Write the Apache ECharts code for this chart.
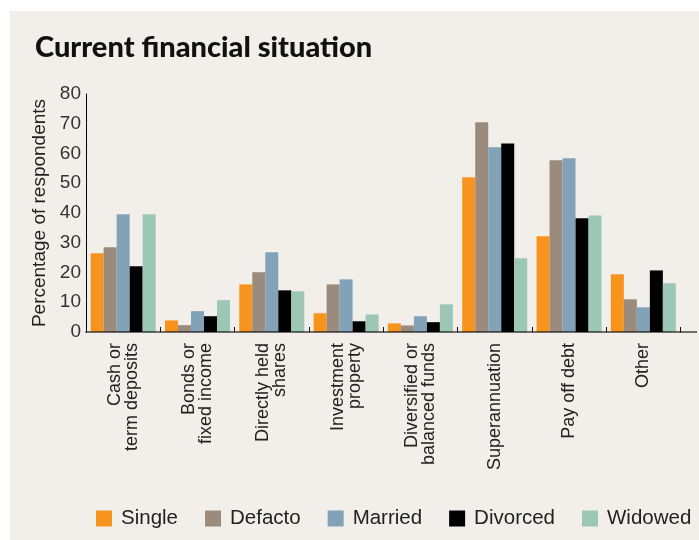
<!DOCTYPE html>
<html>
<head>
<meta charset="utf-8">
<script src="https://cdn.jsdelivr.net/npm/echarts@6/dist/echarts.min.js"></script>
<style>
  html, body { margin: 0; padding: 0; background: #ffffff; }
  #panel { position: absolute; left: 10px; top: 11px; width: 689px; height: 529px; background: #f2efea; }
  #chart { position: absolute; left: 0; top: 0; width: 699px; height: 540px; }
</style>
</head>
<body>
<div id="panel"></div>
<div id="chart"></div>
<script>
// Investment categories (line breaks as printed under the axis)
const categories = [
  'Cash or\nterm deposits',
  'Bonds or\nfixed income',
  'Directly held\nshares',
  'Investment\nproperty',
  'Diversified or\nbalanced funds',
  'Superannuation',
  'Pay off debt',
  'Other'
];

// Percentage of respondents by relationship status
const single   = [26.5, 3.9, 16.0, 6.3, 2.9, 52.0, 32.2, 19.4];
const defacto  = [28.5, 2.3, 20.1, 16.0, 2.2, 70.5, 57.7, 11.0];
const married  = [39.6, 7.0, 26.8, 17.7, 5.3, 62.1, 58.4, 8.3];
const divorced = [22.1, 5.3, 14.0, 3.6, 3.3, 63.4, 38.2, 20.7];
const widowed  = [39.6, 10.7, 13.7, 5.9, 9.3, 24.8, 39.2, 16.4];

const seriesNames = ['Single', 'Defacto', 'Married', 'Divorced', 'Widowed'];
const seriesValues = [single, defacto, married, divorced, widowed];
const seriesColors = ['#f7941d', '#9b8b7c', '#82a2b7', '#000000', '#9cc6b5'];

const yTicks = [0, 10, 20, 30, 40, 50, 60, 70, 80];

const font = '"Liberation Sans", Arial, sans-serif';

const chart = echarts.init(document.getElementById('chart'), null, { renderer: 'canvas' });

const option = {
  backgroundColor: 'transparent',
  animation: false,
  color: seriesColors,
  title: {
    text: 'Current financial situation',
    left: 30,
    top: 28,
    textStyle: {
      fontFamily: 'Lato, sans-serif',
      fontWeight: 900,
      fontSize: 29,
      color: '#111111'
    }
  },
  legend: {
    data: seriesNames,
    left: 91,
    top: 503,
    icon: 'rect',
    itemWidth: 16,
    itemHeight: 16,
    itemGap: 27,
    textStyle: {
      fontFamily: font,
      fontSize: 20.5,
      color: '#222222',
      padding: [0, 0, 0, 4]
    }
  },
  grid: {
    left: 86,
    top: 94,
    width: 594.5,
    height: 238,
    containLabel: false
  },
  xAxis: {
    type: 'category',
    data: categories,
    z: 5,
    axisLine: {
      show: true,
      lineStyle: { color: '#000000', opacity: 0.55, width: 2 }
    },
    axisTick: {
      show: true,
      inside: true,
      length: 5,
      lineStyle: { color: '#111111', width: 1 }
    },
    axisLabel: {
      rotate: 90,
      align: 'right',
      verticalAlign: 'middle',
      margin: 11,
      interval: 0,
      fontFamily: font,
      fontSize: 18,
      lineHeight: 17,
      color: '#222222'
    }
  },
  yAxis: {
    type: 'value',
    min: yTicks[0],
    max: yTicks[yTicks.length - 1],
    interval: 10,
    name: 'Percentage of respondents',
    nameLocation: 'middle',
    nameGap: 32,
    nameTextStyle: {
      fontFamily: font,
      fontSize: 19,
      color: '#222222'
    },
    axisLine: { show: true, lineStyle: { color: '#000000', width: 1 } },
    axisTick: { show: false },
    splitLine: { show: false },
    axisLabel: {
      margin: 5,
      fontFamily: font,
      fontSize: 19,
      color: '#333333'
    }
  },
  series: seriesNames.map((name, i) => ({
    name: name,
    type: 'bar',
    data: seriesValues[i],
    barWidth: 13,
    barGap: '0%',
    itemStyle: { color: seriesColors[i] }
  }))
};

chart.setOption(option);

// The baseline runs on past the last category to the panel's right edge
const lastX = chart.convertToPixel({ xAxisIndex: 0 }, categories[categories.length - 1]);
const prevX = chart.convertToPixel({ xAxisIndex: 0 }, categories[categories.length - 2]);
const axisEndX = lastX + (lastX - prevX) / 2;
const zeroY = chart.convertToPixel({ yAxisIndex: 0 }, 0);
chart.setOption({
  graphic: [{
    type: 'line',
    z: 10,
    shape: { x1: axisEndX, y1: zeroY, x2: 697, y2: zeroY },
    style: { stroke: '#000000', opacity: 0.55, lineWidth: 2 }
  }]
});
</script>
</body>
</html>
